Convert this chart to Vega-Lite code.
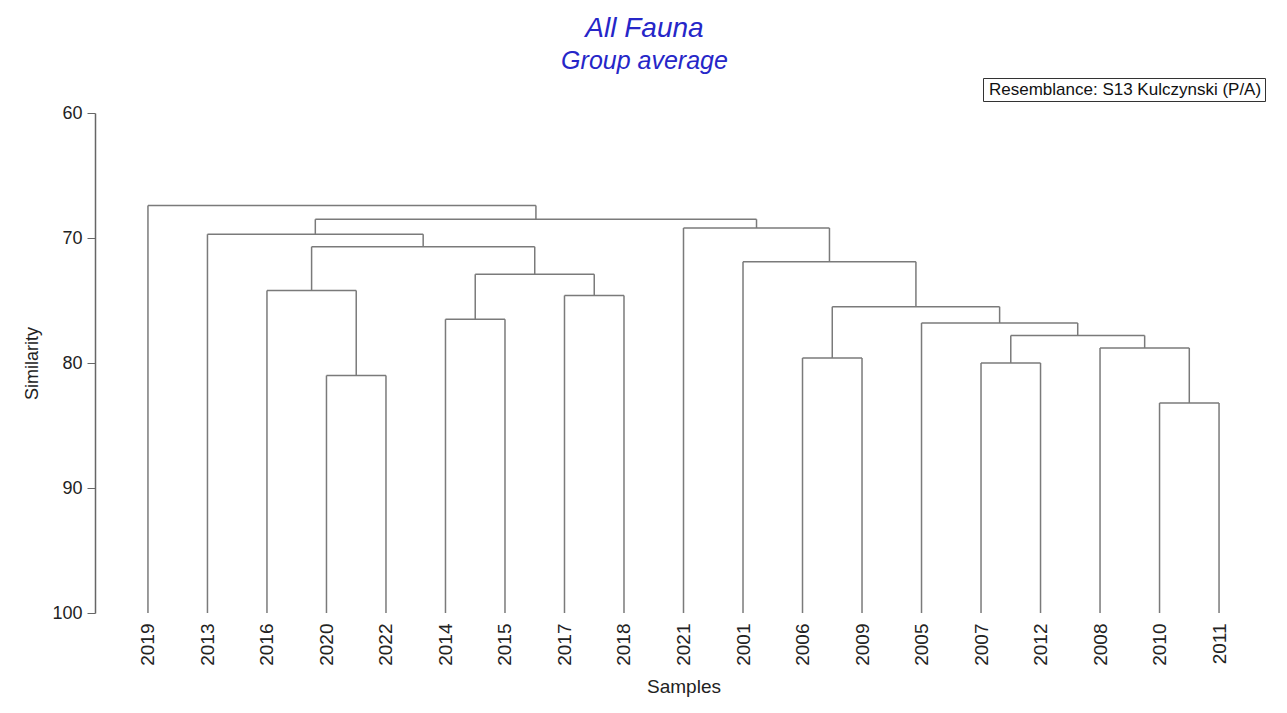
{
  "$schema": "https://vega.github.io/schema/vega-lite/v6.json",
  "autosize": "none",
  "width": 1177,
  "height": 500,
  "padding": {"left": 95, "top": 113, "right": 15, "bottom": 100},
  "background": "white",
  "title": {
    "text": "All Fauna",
    "subtitle": "Group average",
    "anchor": "middle",
    "dx": -39,
    "font": "Liberation Sans",
    "fontSize": 28,
    "fontStyle": "italic",
    "fontWeight": "normal",
    "color": "#2626c8",
    "subtitleFont": "Liberation Sans",
    "subtitleFontSize": 25,
    "subtitleFontStyle": "italic",
    "subtitleColor": "#2626c8",
    "subtitlePadding": 6
  },
  "data": {
    "values": [
      {"node": "2020+2022", "xl": 3, "xr": 4, "hl": 100, "hr": 100, "h": 81.0},
      {"node": "2016+n1", "xl": 2, "xr": 3.5, "hl": 100, "hr": 81.0, "h": 74.2},
      {"node": "2014+2015", "xl": 5, "xr": 6, "hl": 100, "hr": 100, "h": 76.5},
      {"node": "2017+2018", "xl": 7, "xr": 8, "hl": 100, "hr": 100, "h": 74.6},
      {"node": "n3+n4", "xl": 5.5, "xr": 7.5, "hl": 76.5, "hr": 74.6, "h": 72.9},
      {"node": "n2+n5", "xl": 2.75, "xr": 6.5, "hl": 74.2, "hr": 72.9, "h": 70.7},
      {"node": "2013+n6", "xl": 1, "xr": 4.625, "hl": 100, "hr": 70.7, "h": 69.7},
      {"node": "2006+2009", "xl": 11, "xr": 12, "hl": 100, "hr": 100, "h": 79.6},
      {"node": "2010+2011", "xl": 17, "xr": 18, "hl": 100, "hr": 100, "h": 83.2},
      {"node": "2008+n9", "xl": 16, "xr": 17.5, "hl": 100, "hr": 83.2, "h": 78.8},
      {"node": "2007+2012", "xl": 14, "xr": 15, "hl": 100, "hr": 100, "h": 80.0},
      {"node": "n11+n10", "xl": 14.5, "xr": 16.75, "hl": 80.0, "hr": 78.8, "h": 77.8},
      {"node": "2005+n12", "xl": 13, "xr": 15.625, "hl": 100, "hr": 77.8, "h": 76.8},
      {"node": "n8+n13", "xl": 11.5, "xr": 14.3125, "hl": 79.6, "hr": 76.8, "h": 75.5},
      {"node": "2001+n14", "xl": 10, "xr": 12.906, "hl": 100, "hr": 75.5, "h": 71.9},
      {"node": "2021+n15", "xl": 9, "xr": 11.453, "hl": 100, "hr": 71.9, "h": 69.2},
      {"node": "n7+n16", "xl": 2.8125, "xr": 10.227, "hl": 69.7, "hr": 69.2, "h": 68.5},
      {"node": "2019+n17", "xl": 0, "xr": 6.52, "hl": 100, "hr": 68.5, "h": 67.4}
    ]
  },
  "encoding": {
    "color": {
      "datum": "Resemblance: S13 Kulczynski (P/A)",
      "type": "nominal",
      "scale": {"range": ["#7a7a7a"]},
      "legend": {
        "orient": "none",
        "legendX": 888,
        "legendY": -35,
        "title": null,
        "strokeColor": "#333333",
        "padding": 3,
        "cornerRadius": 0,
        "labelFont": "Liberation Sans",
        "labelFontSize": 17,
        "labelColor": "#111111",
        "labelLimit": 0,
        "labelOffset": -14,
        "symbolSize": 0,
        "symbolOpacity": 0,
        "symbolStrokeWidth": 0
      }
    }
  },
  "layer": [
    {
      "mark": {"type": "rule", "strokeWidth": 1.5},
      "encoding": {
        "x": {
          "field": "xl",
          "type": "quantitative",
          "scale": {"domain": [-0.89, 18.89], "nice": false, "zero": false},
          "axis": {
            "orient": "bottom",
            "values": [0, 1, 2, 3, 4, 5, 6, 7, 8, 9, 10, 11, 12, 13, 14, 15, 16, 17, 18],
            "labelExpr": "['2019','2013','2016','2020','2022','2014','2015','2017','2018','2021','2001','2006','2009','2005','2007','2012','2008','2010','2011'][datum.value]",
            "labelAngle": -90,
            "labelFont": "Liberation Sans",
            "labelFontSize": 19,
            "labelColor": "#222222",
            "labelPadding": 10,
            "labelOverlap": false,
            "domain": false,
            "ticks": false,
            "grid": false,
            "title": "Samples",
            "titleFont": "Liberation Sans",
            "titleFontSize": 19,
            "titleFontWeight": "normal",
            "titleColor": "#222222",
            "titlePadding": 12
          }
        },
        "x2": {"field": "xr"},
        "y": {
          "field": "h",
          "type": "quantitative",
          "scale": {"domain": [60, 100], "reverse": true, "nice": false, "zero": false},
          "axis": {
            "orient": "left",
            "values": [60, 70, 80, 90, 100],
            "domain": true,
            "domainColor": "#666666",
            "domainWidth": 1.5,
            "ticks": true,
            "tickColor": "#666666",
            "tickSize": 8,
            "tickWidth": 1,
            "labelFont": "Liberation Sans",
            "labelFontSize": 18,
            "labelColor": "#222222",
            "labelPadding": 5,
            "grid": false,
            "title": "Similarity",
            "titleFont": "Liberation Sans",
            "titleFontSize": 18,
            "titleFontWeight": "normal",
            "titleColor": "#222222",
            "titlePadding": 10
          }
        }
      }
    },
    {
      "mark": {"type": "rule", "strokeWidth": 1.5},
      "encoding": {
        "x": {"field": "xl", "type": "quantitative"},
        "y": {"field": "hl", "type": "quantitative"},
        "y2": {"field": "h"}
      }
    },
    {
      "mark": {"type": "rule", "strokeWidth": 1.5},
      "encoding": {
        "x": {"field": "xr", "type": "quantitative"},
        "y": {"field": "hr", "type": "quantitative"},
        "y2": {"field": "h"}
      }
    }
  ],
  "config": {
    "view": {"stroke": null}
  }
}
